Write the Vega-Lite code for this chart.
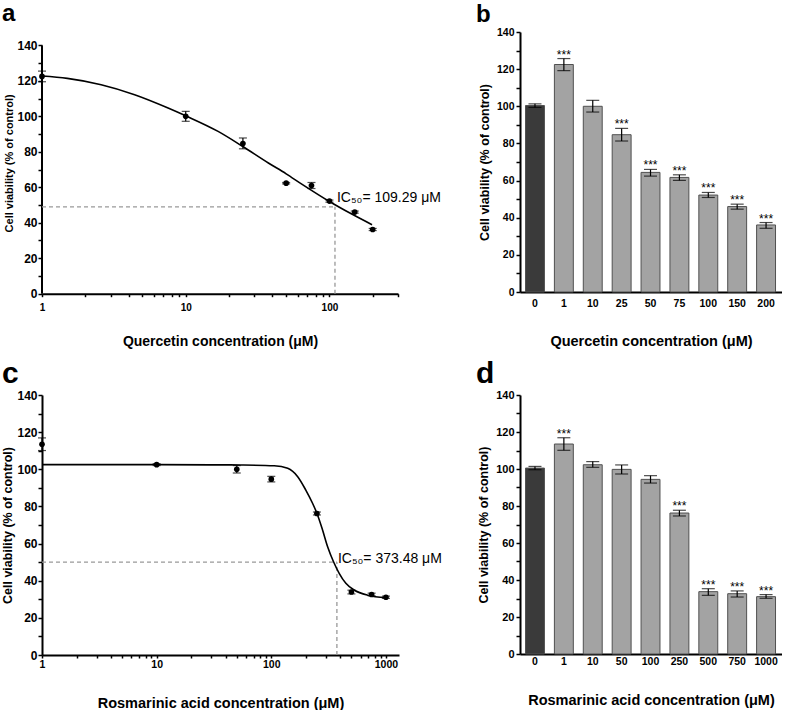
{
  "$schema": "https://vega.github.io/schema/vega-lite/v6.json",
  "padding": {"left": 1, "top": 2, "right": 0, "bottom": 0},
  "background": "white",
  "config": {
    "font": "Liberation Sans",
    "view": {"stroke": null},
    "axis": {
      "domainColor": "black", "domainWidth": 2, "tickColor": "black", "tickWidth": 1.5,
      "labelColor": "black", "labelFontWeight": "bold", "titleFontWeight": "bold", "titleColor": "black",
      "grid": false, "labelFlush": false, "labelOverlap": false
    },
    "title": {"fontWeight": "bold", "color": "black", "anchor": "start", "frame": "group"}
  },
  "datasets": {
    "aPts": [
      {"conc": 1, "v": 122.5, "lo": 119.5, "hi": 125.5},
      {"conc": 10, "v": 100, "lo": 97.2, "hi": 102.8},
      {"conc": 25, "v": 84.7, "lo": 81.7, "hi": 87.8},
      {"conc": 50, "v": 62.3, "lo": 61.9, "hi": 62.7},
      {"conc": 75, "v": 61, "lo": 59.3, "hi": 62.7},
      {"conc": 100, "v": 52.2, "lo": 51.6, "hi": 52.8},
      {"conc": 150, "v": 46, "lo": 45.4, "hi": 46.6},
      {"conc": 200, "v": 36.2, "lo": 35.6, "hi": 36.8}
    ],
    "aCurve": [
      {"conc": 1, "v": 122.7}, {"conc": 1.5, "v": 121.4}, {"conc": 2.58, "v": 117.8},
      {"conc": 4.41, "v": 112.2}, {"conc": 7.54, "v": 104.7}, {"conc": 10, "v": 100.3},
      {"conc": 16.8, "v": 91.5}, {"conc": 24.5, "v": 83.4}, {"conc": 37.6, "v": 73.7},
      {"conc": 50, "v": 67.6}, {"conc": 64.2, "v": 61.8}, {"conc": 100, "v": 52},
      {"conc": 143, "v": 44.9}, {"conc": 198, "v": 38.9}
    ],
    "aAxis": [{"x": 1, "y": 0, "y2": 140}],
    "aRef": [
      {"x": 1, "x2": 109.29, "y": 49, "y2": 49},
      {"x": 109.29, "x2": 109.29, "y": 0, "y2": 49}
    ],
    "aLab": [{"x": 109.29, "y": 49, "t": "IC₅₀= 109.29 μM"}],
    "bBars": [
      {"c": "0", "v": 100.4, "lo": 99.4, "hi": 101.3, "g": "control", "s": ""},
      {"c": "1", "v": 122.5, "lo": 119.2, "hi": 125.7, "g": "treated", "s": "***"},
      {"c": "10", "v": 100, "lo": 96.9, "hi": 103.2, "g": "treated", "s": ""},
      {"c": "25", "v": 84.7, "lo": 81.3, "hi": 88.1, "g": "treated", "s": "***"},
      {"c": "50", "v": 64.4, "lo": 62.4, "hi": 66, "g": "treated", "s": "***"},
      {"c": "75", "v": 61.7, "lo": 60.1, "hi": 63.1, "g": "treated", "s": "***"},
      {"c": "100", "v": 52.2, "lo": 50.9, "hi": 53.6, "g": "treated", "s": "***"},
      {"c": "150", "v": 46, "lo": 44.6, "hi": 47.3, "g": "treated", "s": "***"},
      {"c": "200", "v": 36.1, "lo": 34.3, "hi": 37.4, "g": "treated", "s": "***"}
    ],
    "cPts": [
      {"conc": 1, "v": 113.5, "lo": 110.1, "hi": 116.9},
      {"conc": 10, "v": 102.5, "lo": 102, "hi": 103},
      {"conc": 50, "v": 100, "lo": 98, "hi": 102},
      {"conc": 100, "v": 94.7, "lo": 93.2, "hi": 96.2},
      {"conc": 250, "v": 76.2, "lo": 75.4, "hi": 77},
      {"conc": 500, "v": 33.9, "lo": 32.9, "hi": 34.9},
      {"conc": 750, "v": 32.6, "lo": 31.9, "hi": 33.3},
      {"conc": 1000, "v": 31.1, "lo": 30.5, "hi": 31.7}
    ],
    "cCurve": [
      {"conc": 1, "v": 102.5}, {"conc": 10, "v": 102.5}, {"conc": 30, "v": 102.4},
      {"conc": 54.3, "v": 102.3}, {"conc": 106, "v": 101.9}, {"conc": 139, "v": 100.5},
      {"conc": 170, "v": 96}, {"conc": 200, "v": 88.8}, {"conc": 229, "v": 81.7},
      {"conc": 250, "v": 76.3}, {"conc": 280, "v": 67.3}, {"conc": 310, "v": 58.3},
      {"conc": 349, "v": 50.2}, {"conc": 391, "v": 44}, {"conc": 447, "v": 38.6},
      {"conc": 528, "v": 35}, {"conc": 692, "v": 32.2}, {"conc": 1000, "v": 30.9}
    ],
    "cRef": [
      {"x": 1, "x2": 373.48, "y": 50, "y2": 50},
      {"x": 373.48, "x2": 373.48, "y": 0, "y2": 50}
    ],
    "cLab": [{"x": 373.48, "y": 50, "t": "IC₅₀= 373.48 μM"}],
    "dBars": [
      {"c": "0", "v": 100.5, "lo": 99.6, "hi": 101.4, "g": "control", "s": ""},
      {"c": "1", "v": 113.5, "lo": 110.1, "hi": 116.9, "g": "treated", "s": "***"},
      {"c": "10", "v": 102.3, "lo": 100.9, "hi": 104, "g": "treated", "s": ""},
      {"c": "50", "v": 99.8, "lo": 97.3, "hi": 102.2, "g": "treated", "s": ""},
      {"c": "100", "v": 94.4, "lo": 92.4, "hi": 96.4, "g": "treated", "s": ""},
      {"c": "250", "v": 76.2, "lo": 74.6, "hi": 77.7, "g": "treated", "s": "***"},
      {"c": "500", "v": 33.7, "lo": 31.7, "hi": 35.3, "g": "treated", "s": "***"},
      {"c": "750", "v": 32.6, "lo": 30.8, "hi": 34.1, "g": "treated", "s": "***"},
      {"c": "1000", "v": 31, "lo": 30.1, "hi": 32.1, "g": "treated", "s": "***"}
    ]
  },
  "columns": 2,
  "align": "none",
  "bounds": "full",
  "spacing": {"row": 10, "column": 34},
  "concat": [
    {
      "title": {"text": "a", "fontSize": 24, "dx": -40, "offset": 6},
      "width": 356, "height": 261.7,
      "layer": [
        {
          "data": {"name": "aAxis"},
          "mark": {"type": "rule", "color": "black", "strokeWidth": 2},
          "encoding": {
            "x": {"field": "x", "type": "quantitative", "scale": {"type": "log", "domain": [1, 300], "nice": false},
              "axis": {"title": "Quercetin concentration (μM)", "values": [1,2,3,4,5,6,7,8,9,10,20,30,40,50,60,70,80,90,100,200,300],
                "labelExpr": "datum.value == 1 || datum.value == 10 || datum.value == 100 ? '' + datum.value : ''",
                "labelOverlap": false, "tickSize": 3, "labelFontSize": 10, "labelPadding": 6, "titleFontSize": 14, "titlePadding": 22}},
            "y": {"field": "y", "type": "quantitative", "scale": {"domain": [0, 147.55], "nice": false},
              "axis": {"title": "Cell viability (% of control)", "domain": false, "values": [0,10,20,30,40,50,60,70,80,90,100,110,120,130,140], "tickCount": 30,
                "labelExpr": "datum.value % 20 == 0 ? '' + datum.value : ''", "labelOverlap": false, "tickSize": 4, "labelFontSize": 12, "labelPadding": 1, "titleFontSize": 11, "titlePadding": 2}},
            "y2": {"field": "y2"}
          }
        },
        {
          "data": {"name": "aRef"},
          "mark": {"type": "rule", "color": "#999999", "strokeWidth": 1.3, "strokeDash": [4, 3]},
          "encoding": {
            "x": {"field": "x", "type": "quantitative"},
            "x2": {"field": "x2"},
            "y": {"field": "y", "type": "quantitative"},
            "y2": {"field": "y2"}
          }
        },
        {
          "data": {"name": "aCurve"},
          "mark": {"type": "line", "color": "black", "strokeWidth": 1.6, "interpolate": "monotone"},
          "encoding": {
            "x": {"field": "conc", "type": "quantitative"},
            "y": {"field": "v", "type": "quantitative"}
          }
        },
        {
          "data": {"name": "aPts"},
          "mark": {"type": "errorbar", "color": "black", "ticks": {"size": 8, "thickness": 1.2}, "rule": {"strokeWidth": 1.2}},
          "encoding": {
            "x": {"field": "conc", "type": "quantitative"},
            "y": {"field": "lo", "type": "quantitative", "title": "Cell viability (% of control)"},
            "y2": {"field": "hi"}
          }
        },
        {
          "data": {"name": "aPts"},
          "mark": {"type": "circle", "color": "black", "size": 32, "opacity": 1},
          "encoding": {
            "x": {"field": "conc", "type": "quantitative"},
            "y": {"field": "v", "type": "quantitative"}
          }
        },
        {
          "data": {"name": "aLab"},
          "mark": {"type": "text", "align": "left", "baseline": "alphabetic", "fontSize": 14, "dx": 2, "dy": -5, "color": "black"},
          "encoding": {
            "x": {"field": "x", "type": "quantitative"},
            "y": {"field": "y", "type": "quantitative"},
            "text": {"field": "t"}
          }
        }
      ]
    },
    {
      "title": {"text": "b", "fontSize": 24, "dx": -44, "offset": 0},
      "width": 262, "height": 260,
      "data": {"name": "bBars"},
      "encoding": {
        "x": {"field": "c", "type": "nominal", "sort": ["0","1","10","25","50","75","100","150","200"],
          "scale": {"paddingInner": 0.345, "paddingOuter": 0.2076, "align": 0.46},
          "axis": {"title": "Quercetin concentration (μM)", "ticks": false, "labelAngle": 0, "labelFontSize": 10.5, "labelPadding": 6, "titleFontSize": 14.5, "titlePadding": 26}}
      },
      "layer": [
        {
          "mark": {"type": "bar", "stroke": "#505050", "strokeWidth": 1},
          "encoding": {
            "y": {"field": "v", "type": "quantitative", "scale": {"domain": [0, 140], "nice": false},
              "axis": {"title": "Cell viability (% of control)", "values": [0,10,20,30,40,50,60,70,80,90,100,110,120,130,140], "tickCount": 30,
                "labelExpr": "datum.value % 20 == 0 ? '' + datum.value : ''", "labelOverlap": false, "tickSize": 4, "labelFontSize": 10.5, "labelPadding": 2, "titleFontSize": 12.5, "titlePadding": 5}},
            "color": {"field": "g", "type": "nominal", "scale": {"domain": ["control", "treated"], "range": ["#3a3a3a", "#a3a3a3"]}, "legend": null}
          }
        },
        {
          "mark": {"type": "errorbar", "color": "black", "ticks": {"size": 13, "thickness": 1.2}, "rule": {"strokeWidth": 1.2}},
          "encoding": {
            "y": {"field": "lo", "type": "quantitative", "title": "Cell viability (% of control)"},
            "y2": {"field": "hi"}
          }
        },
        {
          "mark": {"type": "text", "baseline": "alphabetic", "fontSize": 12, "dy": 0, "color": "black"},
          "encoding": {
            "y": {"field": "hi", "type": "quantitative", "title": "Cell viability (% of control)"},
            "text": {"field": "s"}
          }
        }
      ]
    },
    {
      "title": {"text": "c", "fontSize": 30, "dx": -40, "offset": 0},
      "width": 357, "height": 260,
      "layer": [
        {
          "data": {"name": "cRef"},
          "mark": {"type": "rule", "color": "#999999", "strokeWidth": 1.3, "strokeDash": [4, 3]},
          "encoding": {
            "x": {"field": "x", "type": "quantitative", "scale": {"type": "log", "domain": [1, 1300], "nice": false},
              "axis": {"title": "Rosmarinic acid concentration (μM)", "values": [1,2,3,4,5,6,7,8,9,10,20,30,40,50,60,70,80,90,100,200,300,400,500,600,700,800,900,1000],
                "labelExpr": "datum.value == 1 || datum.value == 10 || datum.value == 100 || datum.value == 1000 ? '' + datum.value : ''",
                "labelOverlap": false, "tickSize": 3, "labelFontSize": 10.5, "labelPadding": 1, "titleFontSize": 14.5, "titlePadding": 27}},
            "x2": {"field": "x2"},
            "y": {"field": "y", "type": "quantitative", "scale": {"domain": [0, 140], "nice": false},
              "axis": {"title": "Cell viability (% of control)", "values": [0,10,20,30,40,50,60,70,80,90,100,110,120,130,140], "tickCount": 30,
                "labelExpr": "datum.value % 20 == 0 ? '' + datum.value : ''", "labelOverlap": false, "tickSize": 4, "labelFontSize": 12, "labelPadding": 1, "titleFontSize": 12.5, "titlePadding": 2}},
            "y2": {"field": "y2"}
          }
        },
        {
          "data": {"name": "cCurve"},
          "mark": {"type": "line", "color": "black", "strokeWidth": 1.6, "interpolate": "monotone"},
          "encoding": {
            "x": {"field": "conc", "type": "quantitative"},
            "y": {"field": "v", "type": "quantitative"}
          }
        },
        {
          "data": {"name": "cPts"},
          "mark": {"type": "errorbar", "color": "black", "ticks": {"size": 8, "thickness": 1.2}, "rule": {"strokeWidth": 1.2}},
          "encoding": {
            "x": {"field": "conc", "type": "quantitative"},
            "y": {"field": "lo", "type": "quantitative", "title": "Cell viability (% of control)"},
            "y2": {"field": "hi"}
          }
        },
        {
          "data": {"name": "cPts"},
          "mark": {"type": "circle", "color": "black", "size": 32, "opacity": 1},
          "encoding": {
            "x": {"field": "conc", "type": "quantitative"},
            "y": {"field": "v", "type": "quantitative"}
          }
        },
        {
          "data": {"name": "cLab"},
          "mark": {"type": "text", "align": "left", "baseline": "alphabetic", "fontSize": 14, "dx": 1, "dy": 1, "color": "black"},
          "encoding": {
            "x": {"field": "x", "type": "quantitative"},
            "y": {"field": "y", "type": "quantitative"},
            "text": {"field": "t"}
          }
        }
      ]
    },
    {
      "title": {"text": "d", "fontSize": 30, "dx": -44, "offset": 0},
      "width": 262, "height": 259,
      "data": {"name": "dBars"},
      "encoding": {
        "x": {"field": "c", "type": "nominal", "sort": ["0","1","10","50","100","250","500","750","1000"],
          "scale": {"paddingInner": 0.345, "paddingOuter": 0.2076, "align": 0.46},
          "axis": {"title": "Rosmarinic acid concentration (μM)", "ticks": false, "labelAngle": 0, "labelFontSize": 10.5, "labelPadding": 2, "titleFontSize": 14.5, "titlePadding": 27}}
      },
      "layer": [
        {
          "mark": {"type": "bar", "stroke": "#505050", "strokeWidth": 1},
          "encoding": {
            "y": {"field": "v", "type": "quantitative", "scale": {"domain": [0, 140], "nice": false},
              "axis": {"title": "Cell viability (% of control)", "values": [0,10,20,30,40,50,60,70,80,90,100,110,120,130,140], "tickCount": 30,
                "labelExpr": "datum.value % 20 == 0 ? '' + datum.value : ''", "labelOverlap": false, "tickSize": 4, "labelFontSize": 11, "labelPadding": 2, "titleFontSize": 12.5, "titlePadding": 5}},
            "color": {"field": "g", "type": "nominal", "scale": {"domain": ["control", "treated"], "range": ["#3a3a3a", "#a3a3a3"]}, "legend": null}
          }
        },
        {
          "mark": {"type": "errorbar", "color": "black", "ticks": {"size": 13, "thickness": 1.2}, "rule": {"strokeWidth": 1.2}},
          "encoding": {
            "y": {"field": "lo", "type": "quantitative", "title": "Cell viability (% of control)"},
            "y2": {"field": "hi"}
          }
        },
        {
          "mark": {"type": "text", "baseline": "alphabetic", "fontSize": 12, "dy": 0, "color": "black"},
          "encoding": {
            "y": {"field": "hi", "type": "quantitative", "title": "Cell viability (% of control)"},
            "text": {"field": "s"}
          }
        }
      ]
    }
  ]
}
